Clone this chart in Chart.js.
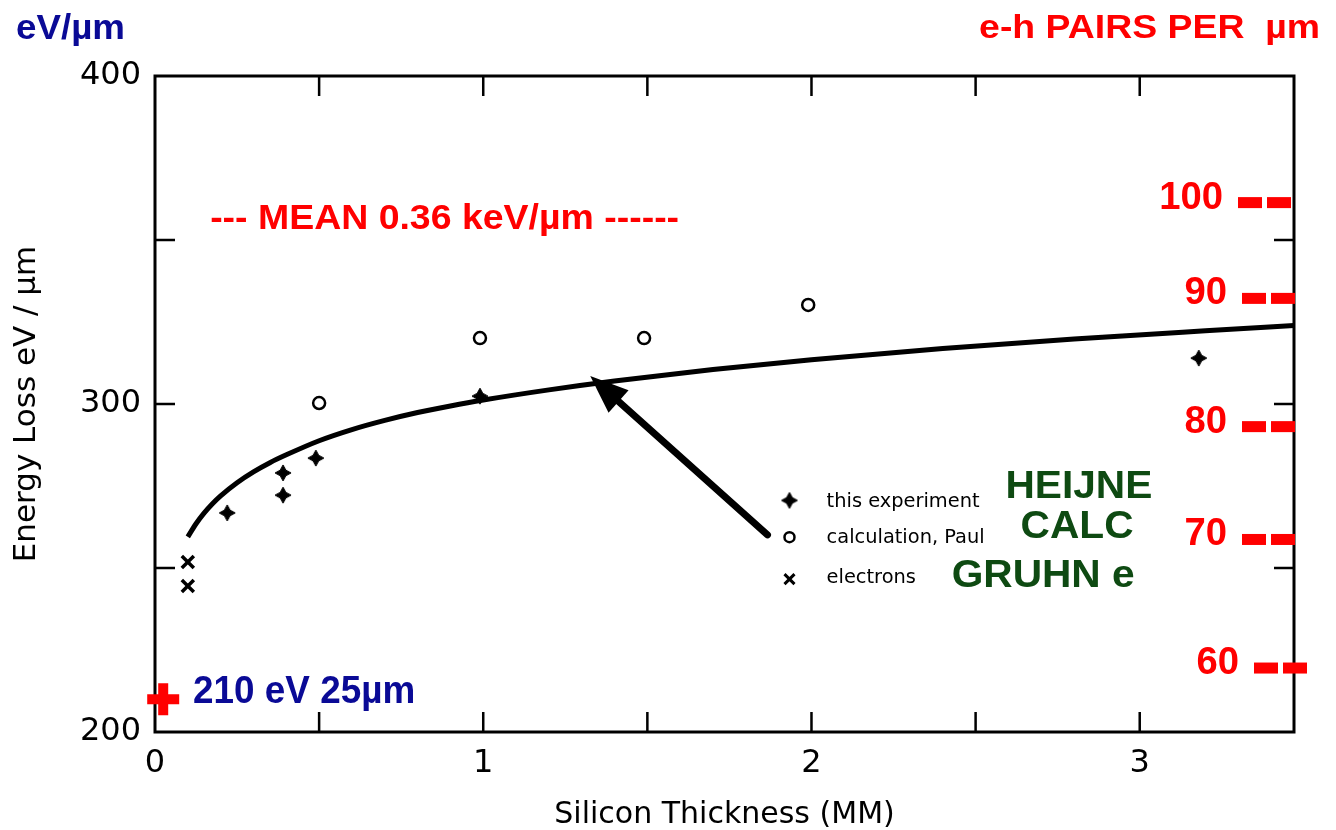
<!DOCTYPE html>
<html>
<head>
<meta charset="utf-8">
<title>Energy loss in silicon</title>
<script src="https://cdn.jsdelivr.net/npm/chart.js@4.4.0/dist/chart.umd.min.js"></script>
<style>
  html, body { margin: 0; padding: 0; background: #fff; }
  #wrap { width: 1336px; height: 830px; }
</style>
</head>
<body>
<div id="wrap"><canvas id="lossChart" width="1336" height="830"></canvas></div>
<script>
// fitted curve through the measurements (thickness in mm, eV/um)
const curveX = [0.10, 0.125, 0.15, 0.175, 0.20, 0.25, 0.30, 0.35, 0.40, 0.50, 0.60, 0.70, 0.80, 0.90, 1.00,
                1.20, 1.40, 1.70, 2.00, 2.40, 2.80, 3.20, 3.47];
const curveY = [259.5, 263.5, 266.8, 269.6, 272.0, 276.0, 279.3, 282.1, 284.5, 288.8, 292.2, 295.0, 297.4, 299.4, 301.2,
                304.3, 307.0, 310.5, 313.5, 316.9, 319.8, 322.3, 323.9];

// this experiment (HEIJNE)
const experimentX = [0.22, 0.39, 0.39, 0.49, 0.99, 3.18];
const experimentY = [266.8, 279.0, 272.2, 283.5, 302.4, 314.0];

// calculation, Paul
const calcX = [0.50, 0.99, 1.49, 1.99];
const calcY = [300.3, 320.1, 320.1, 330.2];

// electrons (GRUHN)
const electronX = [0.10, 0.10];
const electronY = [251.8, 244.5];

// 210 eV at 25 um
const thinX = [0.025];
const thinY = [210];

// e-h pairs per um scale, drawn at these eV/um levels
const pairLabels = ['100', '90', '80', '70', '60'];
const pairLevels = [361.4, 332.2, 293.1, 258.7, 219.5];

const legendLabels = ['this experiment', 'calculation, Paul', 'electrons'];
const legendNames = ['HEIJNE', 'CALC', 'GRUHN e'];

const RED = '#ff0000';
const BLUE = '#0a0a96';
const GREEN = '#0e4a12';
const LETTER = "'DejaVu Sans', sans-serif";
const BOLD = "'Liberation Sans', Arial, sans-serif";

function pts(xs, ys) {
    return xs.map((x, i) => ({ x: x, y: ys[i] }));
}

// four pointed filled star used for the experiment points
function starCanvas(r) {
    const c = document.createElement('canvas');
    const s = Math.ceil(2 * r + 2);
    c.width = s;
    c.height = s;
    const g = c.getContext('2d');
    g.translate(s / 2, s / 2);
    g.beginPath();
    for (let i = 0; i < 8; i++) {
        const a = i * Math.PI / 4 - Math.PI / 2;
        const rad = i % 2 ? r * 0.5 : r;
        const px = Math.cos(a) * rad;
        const py = Math.sin(a) * rad;
        if (i === 0) g.moveTo(px, py); else g.lineTo(px, py);
    }
    g.closePath();
    g.fillStyle = '#000';
    g.fill();
    g.lineWidth = 1;
    g.strokeStyle = '#000';
    g.stroke();
    return c;
}
const star = starCanvas(8);

function stretchText(ctx, str, x, y, font, color, align, sx) {
    ctx.save();
    ctx.font = font;
    ctx.fillStyle = color;
    ctx.textAlign = align || 'left';
    ctx.textBaseline = 'alphabetic';
    ctx.translate(x, y);
    ctx.scale(sx || 1, 1);
    ctx.fillText(str, 0, 0);
    ctx.restore();
}

const decorations = {
    id: 'decorations',
    beforeDatasetsDraw(chart) {
        const { ctx, chartArea: a, scales: { x, y } } = chart;
        ctx.save();
        ctx.strokeStyle = '#000';
        ctx.lineWidth = 3;
        ctx.strokeRect(a.left, a.top, a.right - a.left, a.bottom - a.top);
        // inward tick marks on all four sides
        const tl = 20;
        ctx.lineWidth = 2.5;
        ctx.beginPath();
        x.ticks.forEach(t => {
            const px = x.getPixelForValue(t.value);
            if (px <= a.left + 2 || px >= a.right - 2) return;
            ctx.moveTo(px, a.bottom); ctx.lineTo(px, a.bottom - tl);
            ctx.moveTo(px, a.top); ctx.lineTo(px, a.top + tl);
        });
        y.ticks.forEach(t => {
            const py = y.getPixelForValue(t.value);
            if (py <= a.top + 2 || py >= a.bottom - 2) return;
            ctx.moveTo(a.left, py); ctx.lineTo(a.left + tl, py);
            ctx.moveTo(a.right, py); ctx.lineTo(a.right - tl, py);
        });
        ctx.stroke();
        ctx.restore();
    },
    afterDatasetsDraw(chart) {
        const { ctx, chartArea: a, scales: { x, y } } = chart;
        ctx.save();

        // headings above the frame
        stretchText(ctx, 'eV/µm', 16, 39, `bold 35px ${BOLD}`, BLUE, 'left', 1.05);
        stretchText(ctx, 'e-h PAIRS PER  µm', 1320, 38, `bold 34px ${BOLD}`, RED, 'right', 1.1);

        // e-h pair marks along the right side
        const dashShift = [-56, -52, -52, -52, -40];
        pairLevels.forEach((lv, i) => {
            const py = y.getPixelForValue(lv);
            const x0 = a.right + dashShift[i];
            ctx.fillStyle = RED;
            ctx.fillRect(x0, py - 5.5, 24, 11);
            ctx.fillRect(x0 + 29, py - 5.5, 24, 11);
            stretchText(ctx, pairLabels[i], x0 - 15, py + 6, `bold 39px ${BOLD}`, RED, 'right', 0.98);
        });

        // mean line note
        stretchText(ctx, '--- MEAN 0.36 keV/µm ------', x.getPixelForValue(0.168), y.getPixelForValue(353.4),
            `bold 35px ${BOLD}`, RED, 'left', 1.07);

        // thin detector note
        stretchText(ctx, '210 eV 25µm', x.getPixelForValue(0.116), y.getPixelForValue(208.8),
            `bold 38px ${BOLD}`, BLUE, 'left', 0.97);

        // arrow pointing at the curve
        const tipX = x.getPixelForValue(1.326), tipY = y.getPixelForValue(308.5);
        const tailX = x.getPixelForValue(1.866), tailY = y.getPixelForValue(260.1);
        const ang = Math.atan2(tipY - tailY, tipX - tailX);
        const headLen = 38, headHalf = 15;
        ctx.strokeStyle = '#000';
        ctx.lineWidth = 7;
        ctx.lineCap = 'round';
        ctx.beginPath();
        ctx.moveTo(tailX, tailY);
        ctx.lineTo(tipX - Math.cos(ang) * headLen * 0.8, tipY - Math.sin(ang) * headLen * 0.8);
        ctx.stroke();
        ctx.fillStyle = '#000';
        ctx.beginPath();
        ctx.moveTo(tipX, tipY);
        const bx = tipX - Math.cos(ang) * headLen, by = tipY - Math.sin(ang) * headLen;
        ctx.lineTo(bx + Math.sin(ang) * headHalf, by - Math.cos(ang) * headHalf);
        ctx.lineTo(bx - Math.sin(ang) * headHalf, by + Math.cos(ang) * headHalf);
        ctx.closePath();
        ctx.fill();

        // key with symbols
        const keyX = x.getPixelForValue(1.933);
        const rowY = [270.6, 259.4, 246.6].map(v => y.getPixelForValue(v));
        const textY = [268.6, 257.6, 245.4].map(v => y.getPixelForValue(v));
        ctx.drawImage(star, keyX - star.width / 2, rowY[0] - star.height / 2);
        ctx.lineWidth = 2.5;
        ctx.beginPath();
        ctx.arc(keyX, rowY[1], 5, 0, Math.PI * 2);
        ctx.stroke();
        ctx.lineWidth = 3;
        ctx.lineCap = 'butt';
        ctx.beginPath();
        ctx.moveTo(keyX - 5, rowY[2] - 5); ctx.lineTo(keyX + 5, rowY[2] + 5);
        ctx.moveTo(keyX + 5, rowY[2] - 5); ctx.lineTo(keyX - 5, rowY[2] + 5);
        ctx.stroke();
        const labelX = x.getPixelForValue(2.046);
        legendLabels.forEach((t, i) => {
            stretchText(ctx, t, labelX, textY[i], `20px ${LETTER}`, '#000', 'left', 0.97);
        });
        const nameX = [2.591, 2.637, 2.427].map(v => x.getPixelForValue(v));
        const nameY = [271.2, 259.0, 244.2].map(v => y.getPixelForValue(v));
        legendNames.forEach((t, i) => {
            stretchText(ctx, t, nameX[i], nameY[i], `bold 38px ${BOLD}`, GREEN, 'left', 1.07);
        });

        ctx.restore();
    }
};

const ctx = document.getElementById('lossChart').getContext('2d');
const lossChart = new Chart(ctx, {
    type: 'scatter',
    data: {
        datasets: [
            {
                label: 'fit',
                data: pts(curveX, curveY),
                showLine: true,
                borderColor: '#000',
                borderWidth: 5,
                pointRadius: 0,
                cubicInterpolationMode: 'monotone',
                order: 5
            },
            {
                label: 'this experiment',
                data: pts(experimentX, experimentY),
                pointStyle: star,
                pointRadius: 8
            },
            {
                label: 'calculation, Paul',
                data: pts(calcX, calcY),
                pointStyle: 'circle',
                pointRadius: 6,
                borderWidth: 2.5,
                borderColor: '#000',
                backgroundColor: '#fff'
            },
            {
                label: 'electrons',
                data: pts(electronX, electronY),
                pointStyle: 'crossRot',
                pointRadius: 8.5,
                borderWidth: 3.5,
                borderColor: '#000'
            },
            {
                label: '210 eV 25µm',
                data: pts(thinX, thinY),
                pointStyle: 'cross',
                pointRadius: 16,
                borderWidth: 10,
                borderColor: RED,
                clip: false
            }
        ]
    },
    options: {
        responsive: false,
        animation: false,
        devicePixelRatio: 1,
        layout: {
            padding: { top: 76, right: 42, left: 0, bottom: 0 }
        },
        plugins: {
            legend: { display: false },
            tooltip: { enabled: false }
        },
        scales: {
            x: {
                type: 'linear',
                min: 0,
                max: 3.47,
                grid: { display: false, drawTicks: false },
                border: { display: false },
                ticks: {
                    stepSize: 0.5,
                    includeBounds: false,
                    maxRotation: 0,
                    autoSkip: false,
                    padding: 12,
                    color: '#000',
                    font: { family: LETTER, size: 32 },
                    callback: v => (v % 1 === 0 ? v : '')
                },
                title: {
                    display: true,
                    text: 'Silicon Thickness (MM)',
                    color: '#000',
                    font: { family: LETTER, size: 30, lineHeight: 1 },
                    padding: 0
                },
                afterFit: s => { s.height = 98; }
            },
            y: {
                min: 200,
                max: 400,
                grid: { display: false, drawTicks: false },
                border: { display: false },
                ticks: {
                    stepSize: 50,
                    autoSkip: false,
                    padding: 14,
                    color: '#000',
                    font: { family: LETTER, size: 32 },
                    callback: v => (v % 100 === 0 ? v : '')
                },
                title: {
                    display: true,
                    text: 'Energy Loss eV / µm',
                    color: '#000',
                    font: { family: LETTER, size: 31 },
                    padding: { top: 8, bottom: 0 }
                },
                afterFit: s => { s.width = 155; }
            }
        }
    },
    plugins: [decorations]
});
</script>
</body>
</html>
